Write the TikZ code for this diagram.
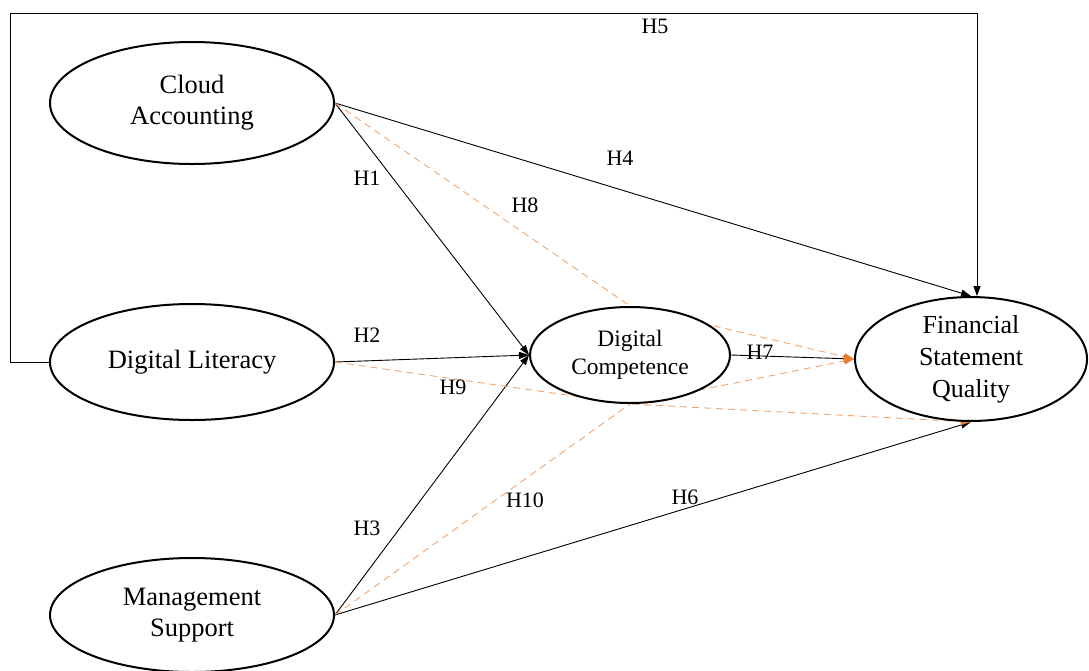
\documentclass[tikz,border=0pt]{standalone}
\usepackage{fontspec}
\setmainfont{Liberation Serif}
\usetikzlibrary{shapes.geometric,arrows.meta,backgrounds}
\definecolor{hyporange}{RGB}{237,125,49}
\begin{document}
\begin{tikzpicture}[x=1pt,y=-1pt,
  construct/.style={ellipse, draw, line width=2pt, fill=white, inner sep=0pt, align=center, font=\fontsize{26.5}{31}\selectfont},
  link/.style={line width=0.9pt, -{Triangle[length=10pt,width=7pt]}},
  medlink/.style={line width=0.9pt, draw=hyporange!70, dash pattern=on 7pt off 5pt, -{Triangle[length=10pt,width=7pt,fill=hyporange,color=hyporange]}},
  hlabel/.style={font=\fontsize{22}{26}\selectfont, inner sep=0pt}]
\useasboundingbox (0,0) rectangle (1089,670);
% constructs
\node[construct, minimum width=284pt, minimum height=122pt] (CA) at (192,103) {Cloud\\Accounting};
\node[construct, minimum width=284pt, minimum height=116pt] (DL) at (192,362) {Digital Literacy};
\node[construct, minimum width=284pt, minimum height=114pt] (MS) at (192,615) {Management\\Support};
\node[construct, minimum width=200pt, minimum height=96pt, font=\fontsize{23.5}{28}\selectfont] (DC) at (630,355) {Digital\\Competence};
\node[construct, minimum width=232pt, minimum height=122pt, font=\fontsize{26}{32}\selectfont] (FSQ) at (971,359) {Financial\\Statement\\Quality};
% frame corners for H5
\coordinate (tl) at (10,13);
\coordinate (tr) at (977,13);
\begin{pgfonlayer}{background}
% H5 frame path
\draw[line width=0.9pt] (DL.west) -- (DL.west -| tl) -- (tl) -- (tr);
\draw[link] (tr) -- (FSQ.north -| tr);
% direct paths
\draw[link] (CA.east) -- (DC.west);
\draw[link] (DL.east) -- (DC.west);
\draw[link] (MS.east) -- (DC.west);
\draw[link] (CA.east) -- (FSQ.north);
\draw[link] (MS.east) -- (FSQ.south);
\draw[link] (DC.east) -- (FSQ.west);
% mediated paths
\draw[medlink] (CA.east) -- (DC.north) -- (FSQ.west);
\draw[medlink] (DL.east) -- (DC.south) -- (FSQ.south);
\draw[medlink] (MS.east) -- (DC.south) -- (FSQ.west);
\end{pgfonlayer}
% labels
\node[hlabel] (l1) at (367,178) {H1};
\node[hlabel] (l2) at (367,335) {H2};
\node[hlabel] (l3) at (367,528) {H3};
\node[hlabel] (l4) at (620,158) {H4};
\node[hlabel] (l5) at (655,26) {H5};
\node[hlabel] (l6) at (685,497) {H6};
\node[hlabel] (l7) at (760,352) {H7};
\node[hlabel] (l8) at (525,205) {H8};
\node[hlabel] (l9) at (453,387) {H9};
\node[hlabel] (l10) at (525,500) {H10};
\end{tikzpicture}
\end{document}
